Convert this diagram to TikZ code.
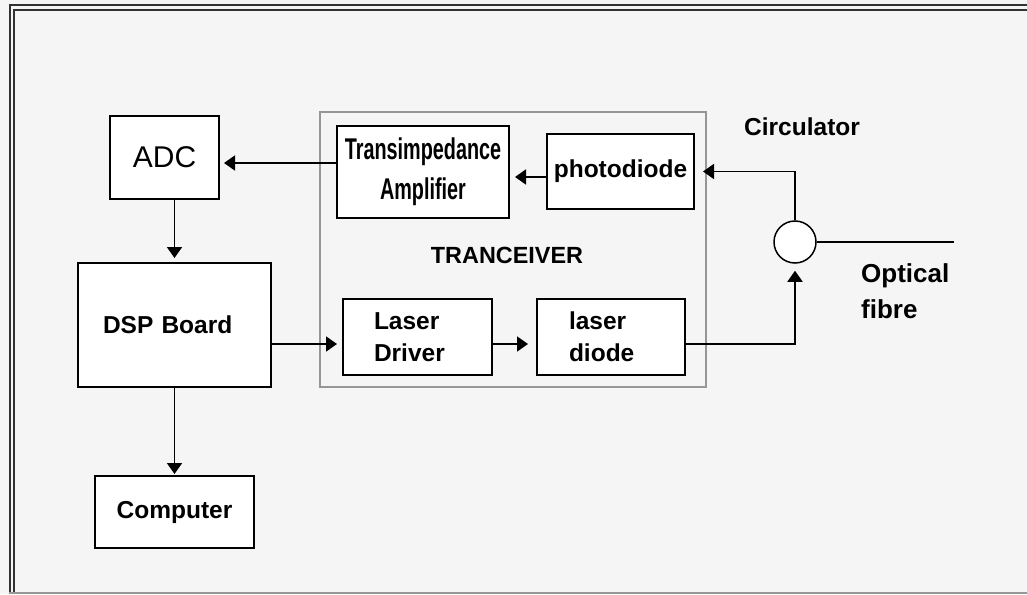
\documentclass[tikz,border=0pt]{standalone}
\usepackage{fontspec}
\setmainfont{Liberation Sans}
\usepackage{graphicx}
\usetikzlibrary{arrows.meta, positioning, calc}
\definecolor{paper}{RGB}{245,245,245}
\definecolor{framegray}{RGB}{50,50,50}
\definecolor{boxgray}{RGB}{150,150,150}

\begin{document}
\begin{tikzpicture}[
    x=1pt, y=-1pt,
    box/.style={draw, fill=white, line width=2pt, inner sep=0pt, align=center},
    arrow/.style={-{Triangle[length=11pt, width=15pt]}, line width=1.8pt, shorten >=5pt},
    link/.style={line width=1.8pt},
    every node/.style={font=\bfseries\fontsize{24.5}{32}\selectfont}
]
% Page and frame
\fill[paper] (0,0) rectangle (1027,594);
\useasboundingbox (0,0) rectangle (1027,594);
\draw[framegray, line width=2pt] (1027,5.5) -| (9.5,594);
\draw[framegray, line width=2pt] (1027,10.5) -| (13.5,594);
\draw[boxgray, line width=2pt] (9,593) -- (1027,593);

% Transceiver
\node[draw=boxgray, line width=2pt, minimum width=386pt, minimum height=275pt, inner sep=0pt] (trx) at (513,249.5) {};
\node[font=\bfseries\fontsize{23.4}{28}\selectfont] (trxlabel) at (507,255) {TRANCEIVER};
\node[box, minimum width=172pt, minimum height=92pt, font=\bfseries\fontsize{30}{40}\selectfont] (tia) at (423,172) {\scalebox{0.66}[1]{Transimpedance}\\\scalebox{0.66}[1]{Amplifier}};
\node[box, minimum width=147pt, minimum height=75pt] (pd) at (620.5,171.5) {photodiode};
\node[box, minimum width=149pt, minimum height=76pt, align=left, text width=87pt] (drv) at (417.5,337) {Laser\\Driver};
\node[box, minimum width=148pt, minimum height=76pt, align=left, text width=84pt] (ldiode) at (611,337) {laser\\diode};

% Processing side
\node[box, minimum width=109pt, minimum height=83pt, font=\fontsize{30}{34}\selectfont] (adc) at (164.5,157.5) {ADC};
\node[box, minimum width=193pt, minimum height=124pt, align=left, text width=143pt] (dsp) at (174.5,325) {DSP Board};
\node[box, minimum width=159pt, minimum height=72pt] (comp) at (174.5,512) {Computer};

% Circulator and fibre
\node[draw, circle, fill=white, line width=1.5pt, minimum size=42pt, inner sep=0pt] (circ) at (795,242) {};
\coordinate (fibre) at (954,242);
\node[anchor=base west, inner sep=0pt] (circlabel) at (744,135) {Circulator};
\node[anchor=north west, inner sep=0pt, align=left, font=\bfseries\fontsize{26}{36}\selectfont] (fibrelabel) at (861,263) {Optical\\fibre};

% Arrows
\draw[arrow, shorten >=4pt] ([yshift=9pt]tia.west) -- ([yshift=9pt]tia.west -| adc.east);
\draw[arrow] ([yshift=-5.5pt]pd.west) -- ([yshift=-5.5pt]pd.west -| tia.east);
\draw[arrow, shorten >=8pt] (circ.north) |- (pd.east);
\draw[arrow, shorten >=4pt] (adc.south -| dsp.north) -- (dsp.north);
\draw[arrow] ([yshift=-7pt]drv.west -| dsp.east) -- ([yshift=-7pt]drv.west);
\draw[arrow, shorten >=8pt] ([yshift=-7pt]drv.east) -- ([yshift=-7pt]drv.east -| ldiode.west);
\draw[arrow, shorten >=7pt] ([yshift=-7pt]ldiode.east) -| (circ.south);
\draw[link] (circ.east) -- (fibre);
\draw[arrow, shorten >=1pt] (dsp.south) -- (comp.north);
\end{tikzpicture}
\end{document}
